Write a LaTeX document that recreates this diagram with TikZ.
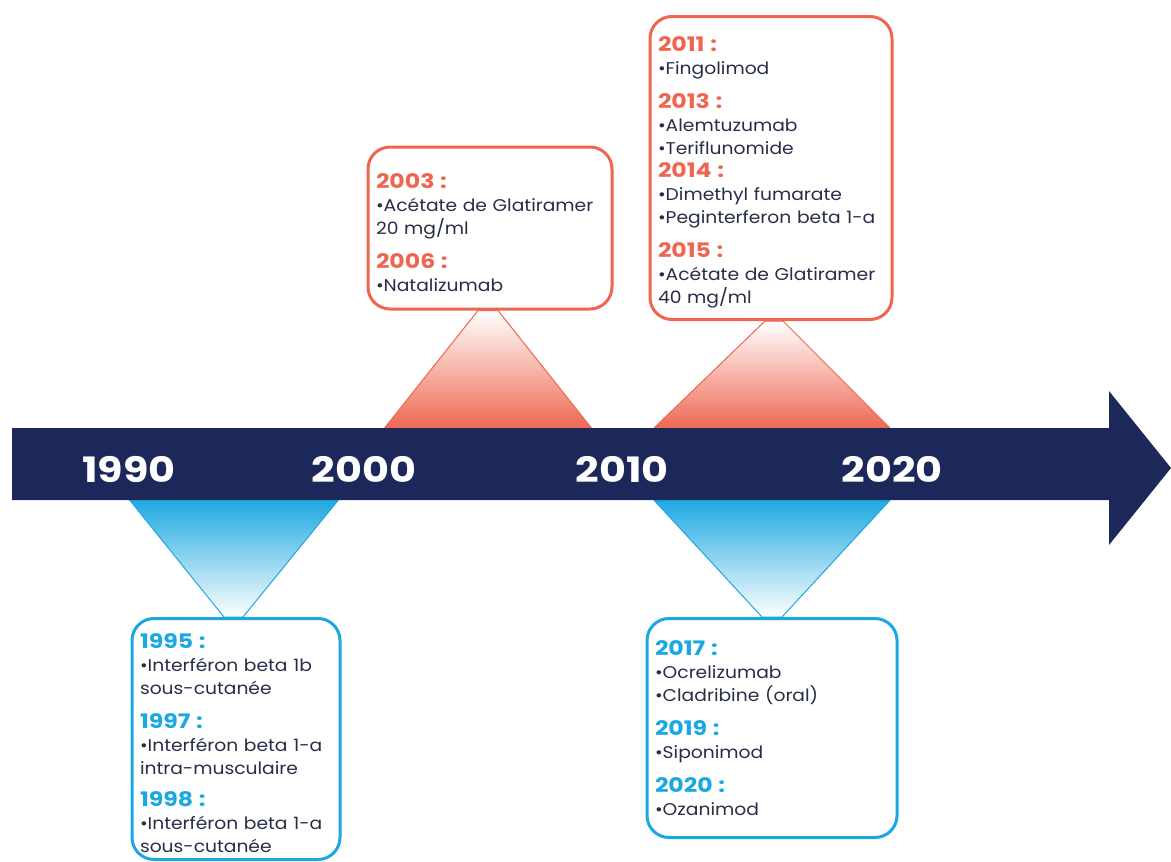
\documentclass[tikz,border=0pt]{standalone}
\usepackage{fontspec}
\setmainfont{Poppins}[FakeStretch=1.1]
\newfontfamily\headfont{Poppins}[FakeStretch=1.18]
\usepackage{tikz}
\usetikzlibrary{positioning, calc, backgrounds}
\usepackage{xcolor}
\definecolor{barnavy}{RGB}{29, 40, 90}
\definecolor{coral}{RGB}{238, 102, 80}
\definecolor{skyblue}{RGB}{27, 168, 225}
\definecolor{inktext}{RGB}{40, 45, 72}

\newcommand{\oyear}[1]{{\color{coral}\headfont\fontsize{20}{23}\selectfont\bfseries #1}}
\newcommand{\byear}[1]{{\color{skyblue}\headfont\fontsize{20}{23}\selectfont\bfseries #1}}
\newcommand{\toppad}{\rule{0pt}{24pt}}

\begin{document}
\begin{tikzpicture}[
    x=1pt, y=-1pt,
    % box styles
    yearbox/.style={
        rectangle, rounded corners=22pt, line width=3pt, fill=white,
        align=left, inner xsep=8pt, inner ysep=0pt, text=inktext,
        font=\fontsize{17}{23}\selectfont
    },
    orangebox/.style={yearbox, draw=coral},
    bluebox/.style={yearbox, draw=skyblue},
    % fan styles
    orangefan/.style={top color=white, bottom color=coral, draw=coral, line width=1pt},
    bluefan/.style={top color=skyblue, bottom color=white, draw=skyblue, line width=1pt},
    % decade labels
    decade/.style={font=\headfont\fontsize{35}{35}\selectfont\bfseries, text=white, anchor=base},
]
\useasboundingbox (0,0) rectangle (1171,862);

% ==================== boxes ====================
\node[orangebox, text width=228pt, minimum height=162pt] (b2003) at (490,228) {%
    \toppad\oyear{2003 :}\\
    •Acétate de Glatiramer\\
    20 mg/ml\\[11pt]
    \oyear{2006 :}\\
    •Natalizumab};

\node[orangebox, text width=226pt, minimum height=303pt] (b2011) at (771,168) {%
    \toppad\oyear{2011 :}\\
    •Fingolimod\\[11pt]
    \oyear{2013 :}\\
    •Alemtuzumab\\
    •Teriflunomide\\
    \oyear{2014 :}\\
    •Dimethyl fumarate\\
    •Peginterferon beta 1-a\\[11pt]
    \oyear{2015 :}\\
    •Acétate de Glatiramer\\
    40 mg/ml};

\node[bluebox, text width=192pt, minimum height=241pt] (b1995) at (236,739) {%
    \toppad\byear{1995 :}\\
    •Interféron beta 1b\\
    sous-cutanée\\[11pt]
    \byear{1997 :}\\
    •Interféron beta 1-a\\
    intra-musculaire\\[9pt]
    \byear{1998 :}\\
    •Interféron beta 1-a\\
    sous-cutanée};

\node[bluebox, text width=234pt, minimum height=219pt] (b2017) at (772,728) {%
    \byear{2017 :}\\
    •Ocrelizumab\\
    •Cladribine (oral)\\[11pt]
    \byear{2019 :}\\
    •Siponimod\\[11pt]
    \byear{2020 :}\\
    •Ozanimod};

% ==================== fans and timeline ====================
\coordinate (o1l) at (383,430);
\coordinate (o1r) at (593,430);
\coordinate (o2l) at (652,430);
\coordinate (o2r) at (892,430);
\coordinate (u1l) at (128,498);
\coordinate (u1r) at (340,498);
\coordinate (u2l) at (652,498);
\coordinate (u2r) at (892,498);

\begin{scope}[on background layer]
    \shade[orangefan] (o1l) -- ($(b2003.south)+(-12,0)$) -- ($(b2003.south)+(8,0)$) -- (o1r) -- cycle;
    \shade[orangefan] (o2l) -- ($(b2011.south)+(-6,0)$) -- ($(b2011.south)+(12,0)$) -- (o2r) -- cycle;
    \shade[bluefan] (u1l) -- (u1r) -- ($(b1995.north)+(7,0)$) -- ($(b1995.north)+(-12,0)$) -- cycle;
    \shade[bluefan] (u2l) -- (u2r) -- ($(b2017.north)+(10,0)$) -- ($(b2017.north)+(-10,0)$) -- cycle;

    % timeline arrow
    \fill[barnavy] (12,428) -- (1109,428) -- (1109,391) -- (1171,468)
        -- (1109,545) -- (1109,500) -- (12,500) -- cycle;
\end{scope}

% ==================== decades ====================
\node[decade] (y1990) at (129,482) {1990};
\node[decade] (y2000) at (364,482) {2000};
\node[decade] (y2010) at (622,482) {2010};
\node[decade] (y2020) at (892,482) {2020};

\end{tikzpicture}
\end{document}
